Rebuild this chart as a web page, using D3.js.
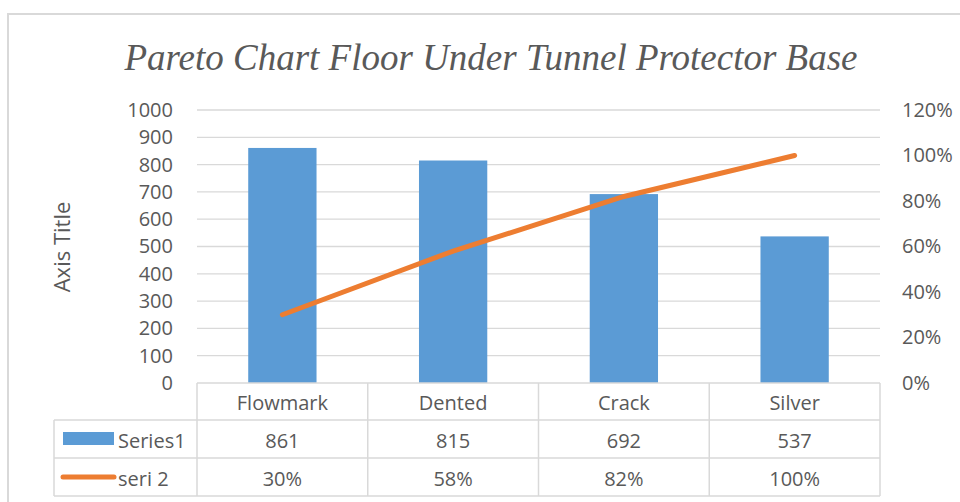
<!DOCTYPE html>
<html><head><meta charset="utf-8">
<script src="https://cdn.jsdelivr.net/npm/d3@7"></script>
<style>body{margin:0;background:#fff}svg{display:block}</style>
</head><body>
<script>
const categories = ["Flowmark","Dented","Crack","Silver"];
const series1 = [861,815,692,537];
const seri2 = [0.30,0.58,0.82,1.00];
const leftTicks = [0,100,200,300,400,500,600,700,800,900,1000];
const rightTicks = [0,0.2,0.4,0.6,0.8,1.0,1.2];
const titleText = "Pareto Chart Floor Under Tunnel Protector Base";

const W=960,H=502;
const svg=d3.select("body").append("svg").attr("width",W).attr("height",H);
const font="'Open Sans', 'Liberation Sans', sans-serif";
const fs=20;
const grey="#595959", gridC="#d9d9d9";
// chart border
svg.append("rect").attr("x",8).attr("y",14).attr("width",W).attr("height",H)
  .attr("fill","none").attr("stroke",gridC).attr("stroke-width",2);

const L=197,R=880,T=110,B=383;
const x=d3.scaleBand().domain(categories).range([L,R]).paddingInner(0).paddingOuter(0);
const y=d3.scaleLinear().domain([0,1000]).range([B,T]);
const y2=d3.scaleLinear().domain([0,1.2]).range([B,T]);

svg.append("text").attr("x",491).attr("y",70).attr("text-anchor","middle")
  .attr("font-family","'Liberation Serif','Times New Roman',serif").attr("font-style","italic")
  .attr("font-size",37).attr("fill",grey).text(titleText);

// gridlines
svg.append("g").selectAll("line").data(leftTicks.filter(d=>d>0)).join("line")
  .attr("x1",L).attr("x2",R).attr("y1",d=>y(d)).attr("y2",d=>y(d))
  .attr("stroke",gridC).attr("stroke-width",1.3);

// left axis
const la=svg.append("g").attr("transform",`translate(${L},0)`)
  .call(d3.axisLeft(y).tickValues(leftTicks).tickSize(0).tickPadding(24).tickFormat(d3.format("d")));
la.select(".domain").remove();
la.selectAll("text").attr("font-family",font).attr("font-size",fs).attr("fill",grey);

const ra=svg.append("g").attr("transform",`translate(${R},0)`)
  .call(d3.axisRight(y2).tickValues(rightTicks).tickSize(0).tickPadding(22).tickFormat(d3.format(".0%")));
ra.select(".domain").remove();
ra.selectAll("text").attr("font-family",font).attr("font-size",fs).attr("fill",grey);

svg.append("text").attr("transform",`translate(70,247) rotate(-90)`).attr("text-anchor","middle")
  .attr("font-family",font).attr("font-size",22).attr("fill",grey).text("Axis Title");

// bars
const bw=x.bandwidth()*0.4;
svg.append("g").selectAll("rect").data(series1).join("rect")
  .attr("x",(d,i)=>x(categories[i])+x.bandwidth()/2-bw/2).attr("width",bw)
  .attr("y",d=>y(d)).attr("height",d=>B-y(d)).attr("fill","#5B9BD5");

// line
svg.append("path").datum(seri2)
  .attr("d",d3.line().x((d,i)=>x(categories[i])+x.bandwidth()/2).y(d=>y2(d)))
  .attr("fill","none").attr("stroke","#ED7D31").attr("stroke-width",5).attr("stroke-linecap","round");

// data table
const r0=383,r1=420,r2=458,r3=496, tl=54;
const tg=svg.append("g").attr("stroke",gridC).attr("stroke-width",1.5);
tg.append("line").attr("x1",L).attr("x2",R).attr("y1",r0).attr("y2",r0);
[r1,r2,r3].forEach(yy=>tg.append("line").attr("x1",tl).attr("x2",R).attr("y1",yy).attr("y2",yy));
tg.append("line").attr("x1",tl).attr("x2",tl).attr("y1",r1).attr("y2",r3);
categories.forEach(c=>tg.append("line").attr("x1",x(c)).attr("x2",x(c)).attr("y1",r0).attr("y2",r3));
tg.append("line").attr("x1",R).attr("x2",R).attr("y1",r0).attr("y2",r3);

const cell=(tx,ty,t)=>svg.append("text").attr("x",tx).attr("y",ty).attr("text-anchor","middle")
  .attr("dominant-baseline","central").attr("font-family",font).attr("font-size",fs).attr("fill",grey).text(t);
categories.forEach((c,i)=>{
  const cx=x(c)+x.bandwidth()/2;
  cell(cx,(r0+r1)/2+1,c);
  cell(cx,(r1+r2)/2+1,series1[i]);
  cell(cx,(r2+r3)/2+1,d3.format(".0%")(seri2[i]));
});
svg.append("rect").attr("x",63).attr("y",432).attr("width",51).attr("height",13).attr("fill","#5B9BD5");
svg.append("line").attr("x1",63).attr("x2",114).attr("y1",477).attr("y2",477)
  .attr("stroke","#ED7D31").attr("stroke-width",5).attr("stroke-linecap","round");
svg.append("text").attr("x",118).attr("y",(r1+r2)/2+1).attr("dominant-baseline","central")
  .attr("font-family",font).attr("font-size",fs).attr("fill",grey).text("Series1");
svg.append("text").attr("x",118).attr("y",(r2+r3)/2+1).attr("dominant-baseline","central")
  .attr("font-family",font).attr("font-size",fs).attr("fill",grey).text("seri 2");
</script>
</body></html>
